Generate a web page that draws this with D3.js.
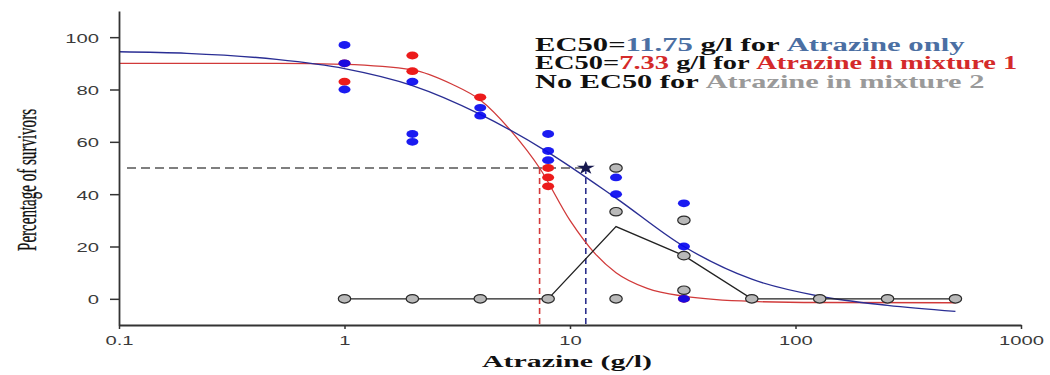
<!DOCTYPE html>
<html>
<head>
<meta charset="utf-8">
<script src="https://cdn.jsdelivr.net/npm/d3@7"></script>
<style>
  body { margin: 0; background: #fff; }
  svg { display: block; }
</style>
</head>
<body>
<svg id="chart" width="1050" height="375"></svg>
<script>
// ---- data ----
const xTicks = [0.1, 1, 10, 100, 1000];
const yTicks = [0, 20, 40, 60, 80, 100];

// observed survivors (%), [concentration g/l, value]
const redDots = [[1, 90], [1, 83], [2, 93], [2, 87], [4, 77], [8, 50], [8, 46.4], [8, 43], [32, 0]];
const blueDots = [[1, 97], [1, 90], [1, 80], [2, 83], [2, 63], [2, 60], [4, 73], [4, 70],
  [8, 63], [8, 56.5], [8, 53], [16, 46.4], [16, 40], [32, 36.5], [32, 20], [32, 0]];
const grayDots = [[1, 0], [2, 0], [4, 0], [8, 0], [16, 50], [16, 33.3], [16, 0],
  [32, 30], [32, 16.5], [32, 3.3], [64, 0], [128, 0], [256, 0], [512, 0]];

// mean line for mixture 2
const grayConc = [1, 2, 4, 8, 16, 32, 64, 128, 256, 512];
const grayMean = [0, 0, 0, 0, 27.6, 16.5, 0, 0, 0, 0];

// fitted curves, points
const blueCurve = [[0.1, 94.4], [0.2, 93.8], [0.5, 91.5], [1, 88], [2, 81.5], [4, 70.5], [8, 56],
  [16, 38.5], [32, 20], [64, 7.5], [128, 1], [256, -2.5], [512, -4.8]];
const redCurve = [[0.1, 90], [0.5, 90], [1, 89.6], [2, 87.5], [3, 82], [4, 76], [5.5, 64],
  [7.33, 50], [10, 30], [13, 17], [16, 10], [22, 4], [32, 1], [64, -1], [128, -1.4], [512, -1.5]];

const ec50Blue = 11.75;
const ec50Red = 7.33;

// ---- layout ----
const svg = d3.select("#chart");
const x = d3.scaleLog().domain([0.1, 1000]).range([119, 1021]);
const y = d3.scaleLinear().domain([-10, 110]).range([325, 11]);
const stretch = 1.5; // the source is stretched horizontally

const axisColor = "#333";

// dashed guide lines
svg.append("line")
  .attr("x1", x(0.1) + 8).attr("x2", x(ec50Blue))
  .attr("y1", y(50)).attr("y2", y(50))
  .attr("stroke", "#555").attr("stroke-width", 1.4)
  .attr("stroke-dasharray", "9,5");

svg.append("line")
  .attr("x1", x(ec50Red)).attr("x2", x(ec50Red))
  .attr("y1", y(50)).attr("y2", y(-10))
  .attr("stroke", "#d23a3a").attr("stroke-width", 1.6)
  .attr("stroke-dasharray", "6,4");

svg.append("line")
  .attr("x1", x(ec50Blue)).attr("x2", x(ec50Blue))
  .attr("y1", y(50)).attr("y2", y(-10))
  .attr("stroke", "#2b2f8c").attr("stroke-width", 1.6)
  .attr("stroke-dasharray", "6,4");

// curves
const line = d3.line()
  .x(d => x(d[0]))
  .y(d => y(d[1]))
  .curve(d3.curveMonotoneX);

svg.append("path").datum(redCurve)
  .attr("d", line).attr("fill", "none")
  .attr("stroke", "#d13a3a").attr("stroke-width", 1.3);

svg.append("path").datum(blueCurve)
  .attr("d", line).attr("fill", "none")
  .attr("stroke", "#2a2e94").attr("stroke-width", 1.4);

svg.append("path").datum(grayConc.map((c, i) => [c, grayMean[i]]))
  .attr("d", d3.line().x(d => x(d[0])).y(d => y(d[1])))
  .attr("fill", "none").attr("stroke", "#222").attr("stroke-width", 1.3);

// points
svg.append("g").selectAll("ellipse")
  .data(grayDots).join("ellipse")
  .attr("cx", d => x(d[0])).attr("cy", d => y(d[1]))
  .attr("rx", 6.2).attr("ry", 4.2)
  .attr("fill", "#b9b9b9").attr("stroke", "#2a2a2a").attr("stroke-width", 1.2);

svg.append("g").selectAll("ellipse")
  .data(redDots).join("ellipse")
  .attr("cx", d => x(d[0])).attr("cy", d => y(d[1]))
  .attr("rx", 6).attr("ry", 3.9)
  .attr("fill", "#ec1b1b");

svg.append("g").selectAll("ellipse")
  .data(blueDots).join("ellipse")
  .attr("cx", d => x(d[0])).attr("cy", d => y(d[1]))
  .attr("rx", 6).attr("ry", 3.9)
  .attr("fill", "#0808f0").attr("fill-opacity", 0.92);

// star at EC50 of atrazine only
svg.append("path")
  .attr("d", d3.symbol(d3.symbolStar).size(55)())
  .attr("transform", `translate(${x(ec50Blue)},${y(50)}) scale(1.35,1)`)
  .attr("fill", "#16184e");

// axes
const gx = svg.append("g")
  .attr("transform", `translate(0,${y(-10)})`)
  .call(d3.axisBottom(x).tickValues(xTicks).tickSize(4).tickSizeOuter(0)
    .tickFormat(d => d < 1 ? "0.1" : String(d)));

const gy = svg.append("g")
  .attr("transform", `translate(${x(0.1)},0)`)
  .call(d3.axisLeft(y).tickValues(yTicks).tickSize(9).tickSizeOuter(0));

[gx, gy].forEach(g => {
  g.select(".domain").attr("stroke", axisColor).attr("stroke-width", 1.8);
  g.selectAll(".tick line").attr("stroke", axisColor).attr("stroke-width", 1.5);
  g.selectAll(".tick text")
    .attr("fill", "#3a3a3a")
    .attr("font-family", "'Liberation Sans', Arial, sans-serif")
    .attr("font-size", 13.5);
});
gx.selectAll(".tick text").attr("y", 10).attr("transform", `scale(${stretch},1)`);
gy.selectAll(".tick text").attr("x", -20 / stretch).attr("dy", "0.36em")
  .attr("transform", `scale(${stretch},1)`);

// helper: squeeze or stretch a text to a given width
function fitWidth(sel, width) {
  const w = sel.node().getComputedTextLength();
  const x0 = +sel.attr("x"), y0 = +sel.attr("y");
  sel.attr("transform", `translate(${x0},${y0}) scale(${width / w},1) translate(${-x0},${-y0})`);
}

// axis titles (y title is a tall condensed serif in the source)
const yTitle = svg.append("text")
  .attr("x", 0).attr("y", 0)
  .attr("font-family", "'Liberation Serif', 'Times New Roman', serif")
  .attr("font-size", 28)
  .attr("fill", "#111")
  .attr("stroke", "#111").attr("stroke-width", 0.3)
  .attr("text-anchor", "middle")
  .text("Percentage of survivors");
{
  const w = yTitle.node().getComputedTextLength();
  yTitle.attr("transform", `translate(36,180) rotate(-90) scale(${142 / w},1)`);
}

const xTitle = svg.append("text")
  .attr("x", 567).attr("y", 367)
  .attr("font-family", "'Liberation Serif', 'Times New Roman', serif")
  .attr("font-weight", "bold")
  .attr("font-size", 17.5)
  .attr("fill", "#111")
  .attr("text-anchor", "middle")
  .text("Atrazine (g/l)");
fitWidth(xTitle, 170);

// annotation block
const notes = [
  [["EC50=", "#111"], ["11.75", "#4b6fa3"], [" g/l for ", "#111"], ["Atrazine only", "#4b6fa3"]],
  [["EC50=", "#111"], ["7.33", "#d42a2a"], [" g/l for ", "#111"], ["Atrazine in mixture 1", "#d42a2a"]],
  [["No EC50 for ", "#111"], ["Atrazine in mixture 2", "#9a9a9a"]]
];
const noteWidths = [428, 481, 448];
notes.forEach((parts, i) => {
  const t = svg.append("text")
    .attr("x", 535).attr("y", 51 + i * 18.4)
    .attr("font-family", "'Liberation Serif', 'Times New Roman', serif")
    .attr("font-weight", "bold")
    .attr("font-size", 18.5)
    .attr("xml:space", "preserve");
  parts.forEach(p => t.append("tspan").attr("fill", p[1]).text(p[0]));
  fitWidth(t, noteWidths[i]);
});
</script>
</body>
</html>
